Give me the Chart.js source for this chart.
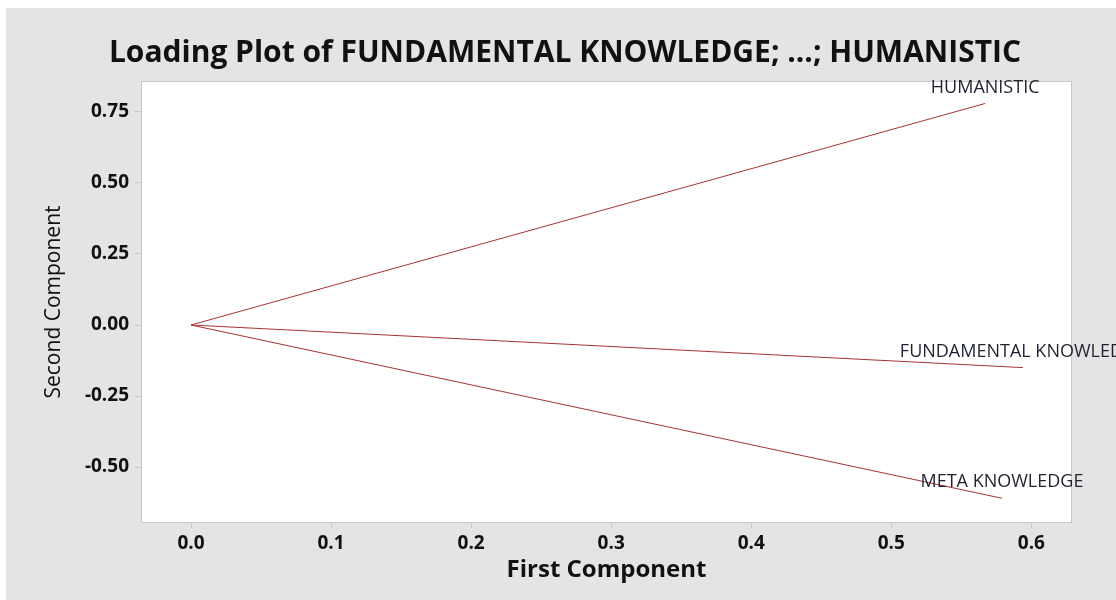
<!DOCTYPE html>
<html>
<head>
<meta charset="utf-8">
<title>Loading Plot</title>
<script src="https://cdn.jsdelivr.net/npm/chart.js@4"></script>
<style>
  body { margin: 0; background: #ffffff; }
  #panel {
    position: absolute;
    left: 6px;
    top: 8px;
    width: 1110px;
    height: 592px;
    background: #e4e4e4;
  }
</style>
</head>
<body>
<div id="panel">
  <canvas id="myChart" width="1110" height="592"></canvas>
</div>
<script>
// loadings
const variables = ["HUMANISTIC", "FUNDAMENTAL KNOWLEDGE", "META KNOWLEDGE"];
const firstComponent = [0.567, 0.594, 0.579];
const secondComponent = [0.78, -0.15, -0.61];

const xTicks = [0.0, 0.1, 0.2, 0.3, 0.4, 0.5, 0.6];
const yTicks = [-0.5, -0.25, 0.0, 0.25, 0.5, 0.75];

const lineColor = "#a83232";
const fontFamily = "'Open Sans', 'Noto Sans', sans-serif";

// each variable is a line from the origin to its loading
const datasets = variables.map((name, i) => ({
  label: name,
  data: [
    { x: 0, y: 0 },
    { x: firstComponent[i], y: secondComponent[i] },
  ],
  showLine: true,
  borderColor: lineColor,
  borderWidth: 1,
  pointRadius: 0,
  fill: false,
}));

const plotFrame = {
  id: "plotFrame",
  beforeDraw(chart) {
    const { ctx, chartArea } = chart;
    ctx.save();
    ctx.fillStyle = "#ffffff";
    ctx.fillRect(chartArea.left, chartArea.top, chartArea.width, chartArea.height);
    ctx.strokeStyle = "#c8c8c8";
    ctx.lineWidth = 1;
    ctx.strokeRect(chartArea.left + 0.5, chartArea.top + 0.5, chartArea.width - 1, chartArea.height - 1);
    ctx.restore();
  },
};

const endLabels = {
  id: "endLabels",
  afterDatasetsDraw(chart) {
    const { ctx, scales } = chart;
    ctx.save();
    ctx.font = "18px " + fontFamily;
    ctx.fillStyle = "#1f2233";
    ctx.textAlign = "center";
    ctx.textBaseline = "middle";
    variables.forEach((name, i) => {
      const px = scales.x.getPixelForValue(firstComponent[i]);
      const py = scales.y.getPixelForValue(secondComponent[i]);
      ctx.fillText(name, px, py - 16);
    });
    ctx.restore();
  },
};

const tickValues = (list) => (scale) => {
  scale.ticks = list.map((v) => ({ value: v }));
};

new Chart(document.getElementById("myChart").getContext("2d"), {
  type: "scatter",
  data: { datasets: datasets },
  plugins: [plotFrame, endLabels],
  options: {
    responsive: false,
    animation: false,
    layout: { padding: { left: 8, right: 0, top: 0, bottom: 0 } },
    plugins: {
      legend: { display: false },
      tooltip: { enabled: false },
      title: {
        display: true,
        text: "Loading Plot of FUNDAMENTAL KNOWLEDGE; ...; HUMANISTIC",
        color: "#111111",
        font: { family: fontFamily, size: 30, weight: "bold", lineHeight: 1.2 },
        padding: { top: 27, bottom: 10 },
      },
    },
    scales: {
      x: {
        type: "linear",
        min: -0.0357,
        max: 0.629,
        afterBuildTicks: tickValues(xTicks),
        afterFit: (scale) => { scale.height = 77; },
        border: { display: false },
        grid: { drawOnChartArea: false, tickLength: 5, color: "#c8c8c8" },
        ticks: {
          color: "#111111",
          padding: 4,
          maxRotation: 0,
          font: { family: fontFamily, size: 19, weight: "bold" },
          callback: (v) => (Math.abs(v) < 1e-9 ? 0 : v).toFixed(1),
        },
        title: {
          display: true,
          text: "First Component",
          color: "#111111",
          font: { family: fontFamily, size: 24, weight: "bold", lineHeight: 1.2 },
          padding: { top: 0, bottom: 15 },
        },
      },
      y: {
        type: "linear",
        min: -0.697,
        max: 0.859,
        afterBuildTicks: tickValues(yTicks),
        afterFit: (scale) => { scale.width = 127; },
        border: { display: false },
        grid: { drawOnChartArea: false, tickLength: 6, color: "#c8c8c8" },
        ticks: {
          color: "#111111",
          padding: 6,
          font: { family: fontFamily, size: 19, weight: "bold" },
          callback: (v) => (Math.abs(v) < 1e-9 ? 0 : v).toFixed(2),
        },
        title: {
          display: true,
          text: "Second Component",
          color: "#111111",
          font: { family: fontFamily, size: 21, lineHeight: 1.2 },
          padding: { top: 27, bottom: 0 },
        },
      },
      // empty right-hand strip so the plot stops short of the panel edge
      yRight: {
        type: "linear",
        position: "right",
        display: true,
        afterFit: (scale) => { scale.width = 44; },
        border: { display: false },
        grid: { display: false },
        ticks: { display: false },
      },
    },
  },
});
</script>
</body>
</html>
